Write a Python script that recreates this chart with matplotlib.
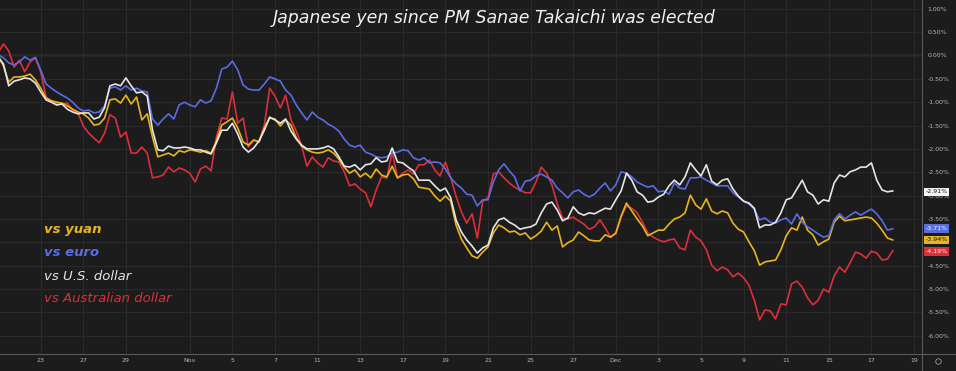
import matplotlib.pyplot as plt
import numpy as np
from matplotlib.lines import Line2D

# JPY change (%) since Oct 21, sampled every 6 hours of trading time
vs_usd = [-0.03, -0.18, -0.65, -0.55, -0.52, -0.48, -0.50, -0.59, -0.78, -0.95,
          -1.00, -1.06, -1.04, -1.15, -1.21, -1.25, -1.23, -1.23, -1.36, -1.32,
          -1.12, -0.65, -0.61, -0.65, -0.48, -0.65, -0.80, -0.78, -0.87, -1.60,
          -2.02, -2.04, -1.94, -1.98, -1.98, -1.96, -1.98, -2.02, -2.02, -2.07,
          -2.11, -1.87, -1.60, -1.60, -1.45, -1.68, -1.96, -2.07, -1.98, -1.83,
          -1.60, -1.32, -1.38, -1.45, -1.36, -1.62, -1.79, -1.92, -2.00, -2.00,
          -2.00, -1.98, -1.94, -2.00, -2.17, -2.37, -2.39, -2.34, -2.45, -2.34,
          -2.32, -2.19, -2.28, -2.26, -1.98, -2.28, -2.30, -2.39, -2.47, -2.67,
          -2.67, -2.67, -2.79, -2.90, -2.84, -3.05, -3.52, -3.78, -3.95, -4.08,
          -4.23, -4.12, -4.06, -3.69, -3.52, -3.48, -3.57, -3.63, -3.72, -3.69,
          -3.67, -3.61, -3.37, -3.18, -3.14, -3.31, -3.54, -3.48, -3.24, -3.37,
          -3.42, -3.37, -3.39, -3.33, -3.27, -3.29, -3.09, -2.90, -2.52, -2.67,
          -2.92, -2.99, -3.14, -3.12, -3.03, -2.97, -2.79, -2.67, -2.77, -2.60,
          -2.30, -2.45, -2.58, -2.34, -2.69, -2.77, -2.67, -2.64, -2.86, -3.01,
          -3.12, -3.16, -3.27, -3.69, -3.63, -3.63, -3.57, -3.37, -3.09, -3.05,
          -2.86, -2.67, -2.92, -2.99, -3.18, -3.09, -3.12, -2.73, -2.56, -2.60,
          -2.49, -2.45, -2.39, -2.39, -2.30, -2.67, -2.88, -2.92, -2.90]

vs_eur = [0.02, -0.05, -0.16, -0.20, -0.14, -0.03, -0.10, -0.04, -0.31, -0.61,
          -0.70, -0.78, -0.85, -0.91, -1.00, -1.12, -1.19, -1.17, -1.23, -1.21,
          -1.08, -0.70, -0.67, -0.74, -0.65, -0.74, -0.70, -0.76, -0.78, -1.36,
          -1.49, -1.36, -1.25, -1.36, -1.06, -1.00, -1.06, -1.10, -0.95, -1.02,
          -0.97, -0.70, -0.29, -0.25, -0.12, -0.31, -0.63, -0.72, -0.74, -0.74,
          -0.61, -0.46, -0.50, -0.55, -0.74, -0.85, -1.06, -1.23, -1.38, -1.21,
          -1.32, -1.38, -1.47, -1.53, -1.62, -1.79, -1.92, -1.96, -1.92, -2.07,
          -2.11, -2.17, -2.19, -2.17, -2.09, -2.07, -2.02, -2.04, -2.19, -2.24,
          -2.19, -2.30, -2.28, -2.30, -2.43, -2.62, -2.75, -2.84, -2.97, -2.99,
          -3.22, -3.09, -3.09, -2.71, -2.45, -2.32, -2.47, -2.60, -2.90, -2.69,
          -2.67, -2.58, -2.54, -2.60, -2.67, -2.84, -2.94, -3.05, -2.92, -2.88,
          -2.97, -3.03, -2.97, -2.84, -2.73, -2.90, -2.77, -2.49, -2.52, -2.60,
          -2.71, -2.77, -2.82, -2.79, -2.92, -2.90, -2.97, -2.73, -2.84, -2.86,
          -2.62, -2.62, -2.60, -2.67, -2.73, -2.79, -2.79, -2.79, -2.94, -3.03,
          -3.12, -3.18, -3.29, -3.52, -3.48, -3.57, -3.59, -3.52, -3.48, -3.61,
          -3.39, -3.57, -3.67, -3.74, -3.82, -3.89, -3.86, -3.52, -3.39, -3.50,
          -3.42, -3.35, -3.42, -3.35, -3.29, -3.39, -3.54, -3.74, -3.71]

vs_cny = [-0.01, -0.22, -0.57, -0.46, -0.46, -0.44, -0.40, -0.52, -0.70, -0.91,
          -0.97, -1.00, -1.02, -1.08, -1.15, -1.21, -1.25, -1.34, -1.49, -1.47,
          -1.34, -0.95, -0.93, -1.02, -0.85, -1.04, -0.89, -1.38, -1.25, -1.75,
          -2.17, -2.13, -2.09, -2.15, -2.04, -2.07, -2.02, -2.04, -2.07, -2.04,
          -2.09, -1.83, -1.49, -1.42, -1.34, -1.55, -1.85, -1.92, -1.81, -1.85,
          -1.55, -1.34, -1.36, -1.51, -1.38, -1.49, -1.77, -1.94, -2.02, -2.07,
          -2.09, -2.07, -2.02, -2.09, -2.22, -2.39, -2.52, -2.45, -2.60, -2.52,
          -2.62, -2.43, -2.56, -2.60, -2.37, -2.62, -2.56, -2.54, -2.64, -2.82,
          -2.84, -2.86, -3.01, -3.12, -3.01, -3.12, -3.63, -3.93, -4.12, -4.29,
          -4.34, -4.21, -4.10, -3.80, -3.63, -3.69, -3.78, -3.76, -3.84, -3.80,
          -3.93, -3.86, -3.76, -3.57, -3.74, -3.65, -4.10, -4.01, -3.95, -3.78,
          -3.86, -3.95, -3.97, -3.97, -3.84, -3.89, -3.80, -3.44, -3.16, -3.33,
          -3.50, -3.65, -3.86, -3.80, -3.74, -3.74, -3.61, -3.50, -3.46, -3.37,
          -2.99, -3.20, -3.29, -3.07, -3.33, -3.39, -3.33, -3.37, -3.59, -3.72,
          -3.78, -3.99, -4.18, -4.49, -4.42, -4.40, -4.38, -4.16, -3.86, -3.69,
          -3.74, -3.46, -3.74, -3.84, -4.06, -3.99, -3.93, -3.57, -3.44, -3.54,
          -3.52, -3.50, -3.48, -3.46, -3.48, -3.59, -3.74, -3.91, -3.95]

vs_aud = [0.05, 0.25, 0.10, -0.25, -0.10, -0.35, -0.14, -0.05, -0.35, -0.89,
          -0.97, -1.04, -1.04, -1.02, -1.17, -1.23, -1.51, -1.66, -1.77, -1.87,
          -1.66, -1.27, -1.34, -1.75, -1.64, -2.09, -2.09, -1.96, -2.09, -2.62,
          -2.60, -2.56, -2.39, -2.49, -2.41, -2.45, -2.52, -2.71, -2.43, -2.37,
          -2.47, -1.75, -1.34, -1.36, -0.78, -1.45, -1.34, -1.96, -1.81, -1.85,
          -1.49, -0.70, -0.87, -1.12, -0.85, -1.38, -1.62, -1.94, -2.37, -2.17,
          -2.30, -2.39, -2.19, -2.26, -2.28, -2.49, -2.79, -2.75, -2.86, -2.94,
          -3.24, -2.88, -2.60, -2.62, -2.07, -2.62, -2.52, -2.45, -2.54, -2.34,
          -2.34, -2.24, -2.45, -2.58, -2.28, -2.62, -3.01, -3.35, -3.59, -3.39,
          -3.91, -3.12, -3.05, -2.54, -2.49, -2.62, -2.73, -2.82, -2.88, -2.94,
          -2.94, -2.71, -2.39, -2.52, -2.77, -3.18, -3.48, -3.50, -3.46, -3.54,
          -3.61, -3.72, -3.67, -3.52, -3.69, -3.89, -3.82, -3.46, -3.22, -3.27,
          -3.37, -3.57, -3.80, -3.89, -3.95, -3.99, -3.95, -3.93, -4.12, -4.16,
          -3.74, -3.89, -3.97, -4.16, -4.49, -4.61, -4.53, -4.59, -4.74, -4.66,
          -4.76, -4.92, -5.24, -5.66, -5.45, -5.47, -5.64, -5.32, -5.34, -4.89,
          -4.83, -4.96, -5.19, -5.34, -5.24, -5.00, -5.07, -4.72, -4.53, -4.64,
          -4.44, -4.21, -4.25, -4.34, -4.19, -4.23, -4.38, -4.36, -4.18]

# x axis: trading days since Oct 21
tick_days = [2, 4, 6, 9, 11, 13, 15, 17, 19, 21, 23, 25, 27, 29, 31, 33, 35, 37, 39, 41, 43]
tick_labels = ['23', '27', '29', 'Nov', '5', '7', '11', '13', '17', '19', '21',
               '25', '27', 'Dec', '3', '5', '9', '11', '15', '17', '19']

last_labels = {'usd': '-2.91%', 'eur': '-3.71%', 'cny': '-3.94%', 'aud': '-4.19%'}

bg = '#1c1c1c'
c_yuan = '#e8b420'
c_euro = '#5a6de0'
c_usd = '#e6e6e6'
c_aud = '#dc2f3c'

fig = plt.figure(figsize=(9.56, 3.71), dpi=100, facecolor=bg)
ax = fig.add_axes([0, 17 / 371, 921.7 / 956, 354 / 371], facecolor=bg)

def days(series):
    return np.arange(len(series)) * 0.25

ax.plot(days(vs_aud), vs_aud, color=c_aud, lw=1.2, zorder=3)
ax.plot(days(vs_cny), vs_cny, color=c_yuan, lw=1.2, zorder=4)
ax.plot(days(vs_eur), vs_eur, color=c_euro, lw=1.2, zorder=5)
ax.plot(days(vs_usd), vs_usd, color=c_usd, lw=1.2, zorder=6)

ax.set_xlim(0.09, 43.36)
ax.set_ylim(-6.392, 1.188)

yt = np.arange(1.0, -6.01, -0.5)
ax.set_yticks(yt)
# -4.00% sits under the last-value tags, as on the original price scale
ax.set_yticklabels(['' if abs(v + 4.0) < 1e-9 else f'{v:.2f}%' for v in yt])
ax.yaxis.tick_right()
ax.set_xticks(tick_days)
ax.set_xticklabels(tick_labels)
ax.tick_params(axis='both', length=0, labelsize=4.5, colors='#b8b8b8')
ax.tick_params(axis='y', pad=4)
ax.tick_params(axis='x', pad=3)

ax.grid(True, color='#2a2a2a', lw=0.8, zorder=0)
ax.axhline(0, color='#5e5e5e', lw=0.9, zorder=1)
for s in ax.spines.values():
    s.set_visible(False)

# axis separators extending to the figure edges
fig.add_artist(Line2D([921.7 / 956] * 2, [0, 1], color='#5a5a5a', lw=0.8))
fig.add_artist(Line2D([0, 1], [17 / 371] * 2, color='#5a5a5a', lw=0.8))
fig.add_artist(Line2D([938 / 956], [10 / 371], marker='o', ms=4, mfc='none',
                      mec='#9a9a9a', mew=0.6))

# last-value tags on the price scale
tags = [(vs_usd[-1] - 0.02, last_labels['usd'], '#f2f2f2', '#111111'),
        (vs_eur[-1], last_labels['eur'], c_euro, 'white'),
        (vs_cny[-1], last_labels['cny'], c_yuan, '#111111'),
        (vs_aud[-1] - 0.02, last_labels['aud'], c_aud, 'white')]
for yv, txt, fc, tc in tags:
    ax.text(1.004, yv, txt, transform=ax.get_yaxis_transform(), ha='left', va='center',
            fontsize=4.5, color=tc, clip_on=False, zorder=10,
            bbox=dict(boxstyle='square,pad=0.28', fc=fc, ec='none'))

fig.text(494 / 956, 1 - 18 / 371, 'Japanese yen since PM Sanae Takaichi was elected',
         ha='center', va='center', fontsize=12.5, style='italic', color='#f0f0f0')

legend_items = [('vs yuan', c_yuan, 'bold', 230),
                ('vs euro', c_euro, 'bold', 252),
                ('vs U.S. dollar', c_usd, 'normal', 276),
                ('vs Australian dollar', c_aud, 'normal', 299)]
for txt, col, wt, ypx in legend_items:
    fig.text(44 / 956, 1 - ypx / 371, txt, ha='left', va='center', fontsize=9.5,
             style='italic', fontweight=wt, color=col)

fig.savefig('out.png', dpi=100, facecolor=bg)
